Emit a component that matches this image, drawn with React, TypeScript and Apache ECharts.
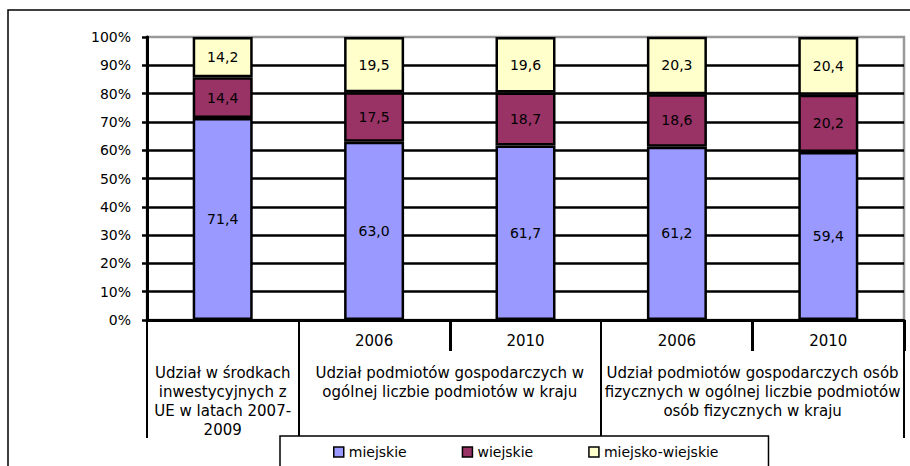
import React, { useEffect, useRef } from 'react';
import * as echarts from 'echarts';

const categoryKeys = ['UE 2007-2009', 'Podmioty 2006', 'Podmioty 2010', 'Osoby 2006', 'Osoby 2010'];
const yearLabels = ['', '2006', '2010', '2006', '2010'];
const groupLabels = [
  'Udział w środkach\ninwestycyjnych z\nUE w latach 2007-\n2009',
  'Udział podmiotów gospodarczych w\nogólnej liczbie podmiotów w kraju',
  'Udział podmiotów gospodarczych osób\nfizycznych w ogólnej liczbie podmiotów\nosób fizycznych w kraju',
];
// group label positions, in category units along the x axis
const groupCenters = [0.5, 2, 4];
// category indexes whose left boundary carries a long (group) separator
const groupStarts = [0, 1, 3];
const yearSeparators = [2, 4];

const seriesNames = ['miejskie', 'wiejskie', 'miejsko-wiejskie'];
const miejskie = [71.4, 63.0, 61.7, 61.2, 59.4];
const wiejskie = [14.4, 17.5, 18.7, 18.6, 20.2];
const miejskoWiejskie = [14.2, 19.5, 19.6, 20.3, 20.4];
const colors = ['#9999FF', '#993366', '#FFFFCC'];

export default function App() {
  const ref = useRef<HTMLDivElement>(null);
  useEffect(() => {
    if (!ref.current) return;
    const chart = echarts.init(ref.current, null, { renderer: 'svg' });
    const font = 'DejaVu Sans';
    const fmt = (v: number) => v.toFixed(1).replace('.', ',');
    const mkSeries = (name: string, data: number[], color: string) => ({
      name,
      type: 'bar',
      stack: 'total',
      data,
      barWidth: 60,
      xAxisIndex: 0,
      yAxisIndex: 0,
      itemStyle: { color, borderColor: '#000', borderWidth: 2.5 },
      label: {
        show: true,
        position: 'inside',
        color: '#000',
        fontFamily: font,
        fontSize: 14,
        formatter: (p: any) => fmt(p.value),
      },
      emphasis: { disabled: true },
    });
    chart.setOption({
      animation: false,
      backgroundColor: '#fff',
      textStyle: { fontFamily: font },
      graphic: [
        {
          type: 'rect',
          z: -10,
          silent: true,
          shape: { x: 8, y: 10, width: 940, height: 500 },
          style: { fill: 'none', stroke: '#000', lineWidth: 1.5 },
        },
      ],
      grid: {
        left: 147,
        right: 6,
        top: 37,
        bottom: 146,
        show: true,
        borderColor: '#999',
        borderWidth: 2.5,
        backgroundColor: '#fff',
        outerBoundsMode: 'none',
      },
      legend: {
        left: 280,
        top: 436,
        padding: [9, 50, 20, 53],
        itemGap: 55,
        itemWidth: 10,
        itemHeight: 10,
        icon: 'rect',
        borderColor: '#000',
        borderWidth: 1.5,
        backgroundColor: '#fff',
        itemStyle: { borderColor: '#000', borderWidth: 1.5 },
        textStyle: { color: '#000', fontFamily: font, fontSize: 14 },
        data: seriesNames,
      },
      xAxis: [
        {
          type: 'category',
          position: 'bottom',
          data: categoryKeys,
          axisLine: { show: true, lineStyle: { color: '#000', width: 3 } },
          axisTick: {
            show: true,
            length: 31,
            interval: (i: number) => yearSeparators.includes(i),
            lineStyle: { color: '#000', width: 3 },
          },
          axisLabel: {
            interval: 0,
            formatter: (_v: string, i: number) => yearLabels[i],
            color: '#000',
            fontFamily: font,
            fontSize: 15,
            margin: 13,
          },
          splitLine: { show: false },
        },
        {
          type: 'category',
          position: 'bottom',
          data: categoryKeys,
          axisLine: { show: false },
          axisTick: {
            show: true,
            length: 118,
            interval: (i: number) => groupStarts.includes(i),
            lineStyle: { color: '#000', width: 2 },
          },
          axisLabel: { show: false },
          splitLine: { show: false },
        },
        {
          type: 'value',
          position: 'bottom',
          min: 0,
          max: categoryKeys.length,
          interval: 0.5,
          axisLine: { show: false },
          axisTick: { show: false },
          splitLine: { show: false },
          axisLabel: {
            formatter: (v: number) => {
              const k = groupCenters.findIndex((c) => Math.abs(c - v) < 1e-6);
              return k >= 0 ? groupLabels[k] : '';
            },
            color: '#000',
            fontFamily: font,
            fontSize: 15,
            lineHeight: 19,
            margin: 43,
          },
        },
      ],
      yAxis: {
        type: 'value',
        min: 0,
        max: 100,
        interval: 10,
        axisLine: { show: true, lineStyle: { color: '#000', width: 3 } },
        axisTick: { show: true, length: 5, lineStyle: { color: '#000', width: 2.5 } },
        axisLabel: { formatter: '{value}%', color: '#000', fontFamily: font, fontSize: 14, margin: 16 },
        splitLine: { show: true, showMaxLine: false, lineStyle: { color: '#000', width: 2.5 } },
      },
      series: [
        mkSeries(seriesNames[0], miejskie, colors[0]),
        mkSeries(seriesNames[1], wiejskie, colors[1]),
        mkSeries(seriesNames[2], miejskoWiejskie, colors[2]),
      ],
    });
    return () => chart.dispose();
  }, []);
  return <div ref={ref} style={{ position: 'fixed', left: 0, top: 0, width: 910, height: 466 }} />;
}
